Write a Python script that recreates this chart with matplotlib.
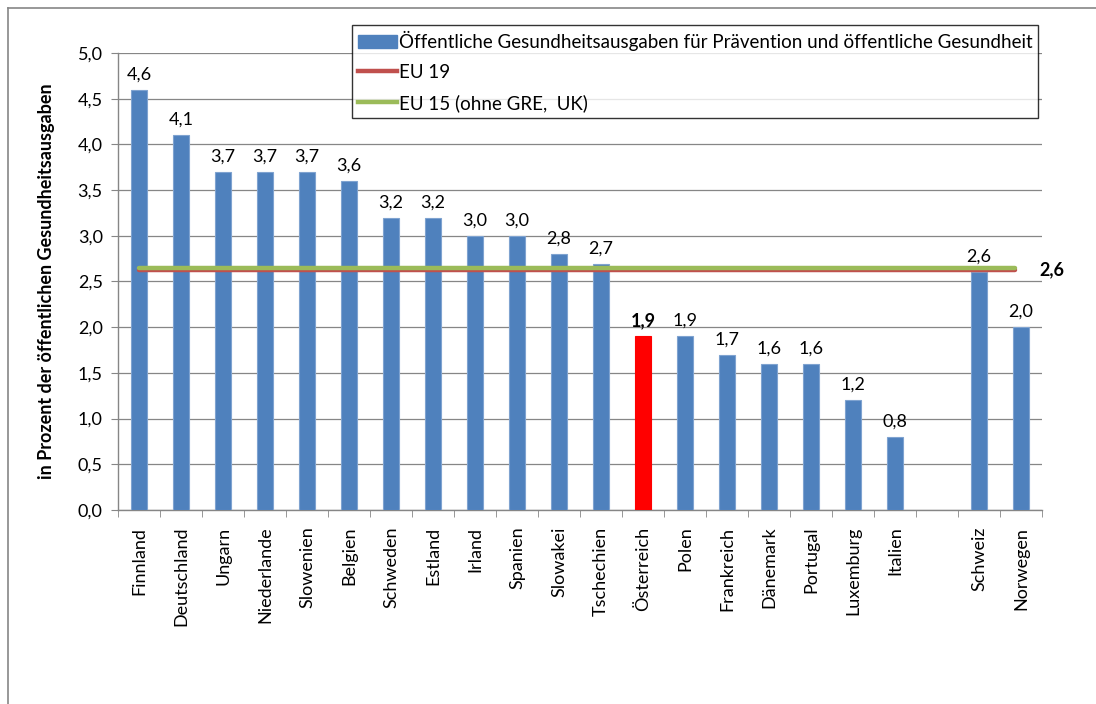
import numpy as np
import matplotlib.pyplot as plt
from matplotlib.lines import Line2D
from matplotlib.patches import Patch

plt.rcParams['font.family'] = ['Lato', 'DejaVu Sans']

countries = ["Finnland", "Deutschland", "Ungarn", "Niederlande", "Slowenien", "Belgien",
             "Schweden", "Estland", "Irland", "Spanien", "Slowakei", "Tschechien",
             "Österreich", "Polen", "Frankreich", "Dänemark", "Portugal", "Luxemburg",
             "Italien", "", "Schweiz", "Norwegen"]
values = [4.6, 4.1, 3.7, 3.7, 3.7, 3.6, 3.2, 3.2, 3.0, 3.0, 2.8, 2.69,
          1.9, 1.9, 1.7, 1.6, 1.6, 1.2, 0.8, np.nan, 2.6, 2.0]
eu19 = 2.63
eu15 = 2.645
highlight = "Österreich"

blue = "#4F81BD"
fs = 13
fig = plt.figure(figsize=(10.96, 7.04), dpi=100)
ax = fig.add_axes([0.1077, 0.2756, 0.8430, 0.6491])

x = np.arange(len(countries))
for xi, c, v in zip(x, countries, values):
    if np.isnan(v):
        continue
    hl = c == highlight
    ax.bar(xi, v, width=0.4, color="#FF0000" if hl else blue,
           edgecolor="#FF0000" if hl else "#7FA3D0", linewidth=0.8, zorder=3)
    # value label above the bar
    ax.text(xi, v + 0.08, f"{v:.1f}".replace(".", ","), ha="center", va="bottom",
            fontsize=fs, fontweight="bold" if hl else "normal", zorder=4)

# EU average lines spanning the country columns
last = len(countries) - 1
ax.plot([0, last - 0.15], [eu19, eu19], color="#C0504D", lw=3.2, zorder=4,
        solid_capstyle="round")
ax.plot([0, last - 0.15], [eu15, eu15], color="#9BBB59", lw=3.2, zorder=4,
        solid_capstyle="round")
ax.text(last + 0.45, eu15 - 0.02, f"{eu15:.1f}".replace(".", ","), ha="left", va="center",
        fontsize=fs, fontweight="bold", clip_on=False)

ax.set_xlim(-0.5, len(countries) - 0.5)
ax.set_ylim(0, 5)
yt = np.arange(0, 5.01, 0.5)
ax.set_yticks(yt)
ax.set_yticklabels([f"{t:.1f}".replace(".", ",") for t in yt], fontsize=fs)
ax.set_xticks(x)
ax.set_xticklabels(countries, rotation=90, fontsize=fs)
ax.tick_params(axis="x", length=0, pad=12)
ax.set_xticks(np.arange(-0.5, len(countries), 1), minor=True)
ax.tick_params(axis="x", which="minor", length=5, color="#868686", direction="out")
ax.tick_params(axis="y", length=5, color="#868686", direction="out", pad=6)
ax.yaxis.grid(True, color="#868686", lw=0.9, zorder=0)
ax.set_axisbelow(True)
for side in ["top", "right"]:
    ax.spines[side].set_visible(False)
for side in ["left", "bottom"]:
    ax.spines[side].set_color("#868686")
    ax.spines[side].set_linewidth(1.0)
ax.set_ylabel("in Prozent der öffentlichen Gesundheitsausgaben", fontsize=fs,
              fontweight="bold", labelpad=16)

handles = [Patch(facecolor=blue, edgecolor=blue),
           Line2D([], [], color="#C0504D", lw=3.2),
           Line2D([], [], color="#9BBB59", lw=3.2)]
labels = ["Öffentliche Gesundheitsausgaben für Prävention und öffentliche Gesundheit",
          "EU 19", "EU 15 (ohne GRE,  UK)"]
leg = fig.legend(handles, labels, loc="upper left", bbox_to_anchor=(352 / 1096, 1 - 25 / 704),
                 fontsize=fs + 0.5, frameon=True, fancybox=False, edgecolor="black",
                 handlelength=2.1, handletextpad=0.1, borderpad=0.3, labelspacing=0.7,
                 borderaxespad=0)
leg.get_frame().set_linewidth(1.0)

# outer chart frame (left and top edges)
fig.add_artist(Line2D([8 / 1096, 8 / 1096], [0, 1 - 8 / 704], color="#868686", lw=1.2))
fig.add_artist(Line2D([8 / 1096, 1], [1 - 8 / 704, 1 - 8 / 704], color="#868686", lw=1.2))

fig.savefig("out.png", dpi=100)
